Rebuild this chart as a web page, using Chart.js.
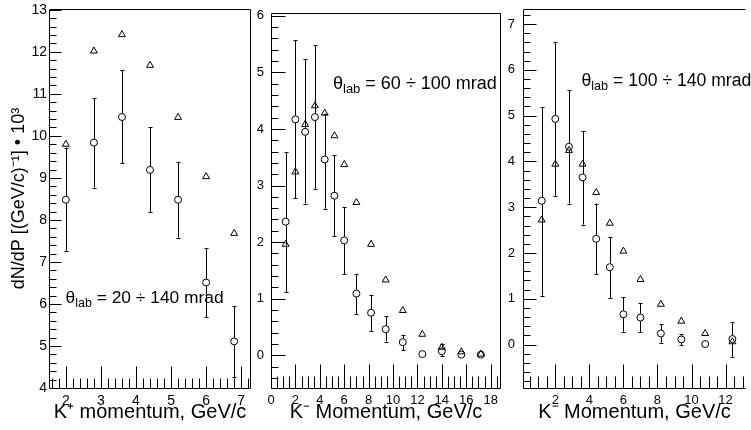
<!DOCTYPE html>
<html><head><meta charset="utf-8">
<script src="https://cdn.jsdelivr.net/npm/chart.js@4/dist/chart.umd.min.js"></script>
<style>
html,body{margin:0;padding:0;background:#fff;overflow:hidden;width:751px;height:430px;}
.p{position:absolute;top:0;height:430px;}
</style></head><body>
<div class="p" style="left:0;width:256px"><canvas id="c1"></canvas></div>
<div class="p" style="left:256px;width:250px"><canvas id="c2"></canvas></div>
<div class="p" style="left:506px;width:245px"><canvas id="c3"></canvas></div>
<script>
// ---------- data ----------
const p1Momentum   = [2.0, 2.8, 3.6, 4.4, 5.2, 6.0, 6.8];
const p1Circle     = [8.48, 9.84, 10.45, 9.19, 8.48, 6.51, 5.11];
const p1CircleLow  = [7.27, 8.77, 9.35, 8.18, 7.58, 5.68, 4.26];
const p1CircleHigh = [9.72, 10.89, 11.56, 10.20, 9.39, 7.33, 5.96];
const p1Triangle   = [9.80, 12.02, 12.41, 11.68, 10.44, 9.03, 7.68];
const p1XTicks = [2, 3, 4, 5, 6, 7];
const p1YTicks = [4, 5, 6, 7, 8, 9, 10, 11, 12, 13];

const p2Momentum   = [1.2, 2.0, 2.8, 3.6, 4.4, 5.2, 6.0, 7.0, 8.2, 9.4, 10.8, 12.4, 14.0, 15.6, 17.2];
const p2Circle     = [2.36, 4.17, 3.95, 4.21, 3.46, 2.82, 2.03, 1.09, 0.75, 0.46, 0.23, 0.02, 0.07, 0.01, 0.01];
const p2CircleLow  = [1.12, 2.78, 2.68, 2.94, 2.59, 2.10, 1.43, 0.73, 0.42, 0.24, 0.09, 0.00, -0.01, 0.00, 0.00];
const p2CircleHigh = [3.59, 5.57, 5.23, 5.48, 4.27, 3.54, 2.62, 1.44, 1.07, 0.69, 0.36, 0.05, 0.20, 0.03, 0.02];
const p2Triangle   = [1.96, 3.24, 4.08, 4.41, 4.28, 3.88, 3.37, 2.70, 1.96, 1.33, 0.79, 0.37, 0.14, 0.06, 0.02];
const p2XTicks = [0, 2, 4, 6, 8, 10, 12, 14, 16, 18];
const p2YTicks = [0, 1, 2, 3, 4, 5, 6];

const p3Momentum   = [1.2, 2.0, 2.8, 3.6, 4.4, 5.2, 6.0, 7.0, 8.2, 9.4, 10.8, 12.4];
const p3Circle     = [3.14, 4.93, 4.32, 3.65, 2.31, 1.69, 0.66, 0.59, 0.24, 0.11, 0.01, 0.12];
const p3CircleLow  = [1.07, 3.25, 3.08, 2.62, 1.54, 1.02, 0.28, 0.27, 0.04, -0.01, 0.00, -0.27];
const p3CircleHigh = [5.19, 6.61, 5.55, 4.67, 3.08, 2.35, 1.04, 0.90, 0.44, 0.22, 0.02, 0.49];
const p3Triangle   = [2.72, 3.94, 4.24, 3.94, 3.32, 2.65, 2.04, 1.42, 0.88, 0.51, 0.24, 0.06];
const p3XTicks = [2, 4, 6, 8, 10, 12];
const p3YTicks = [0, 1, 2, 3, 4, 5, 6, 7];

const FONT = '"Liberation Sans", Arial, Helvetica, sans-serif';

// ---------- ROOT-like frame, inner ticks, error bars, label ----------
const rootPlugin = {
  id: 'rootStyle',
  beforeDatasetsDraw(chart, args, o) {
    const ctx = chart.ctx, xs = chart.scales.x, ys = chart.scales.y;
    const r = 3.5;
    ctx.save();
    ctx.strokeStyle = '#000';
    ctx.lineWidth = 1;
    o.xs.forEach((xv, i) => {
      const px = Math.round(xs.getPixelForValue(xv)) + 0.5;
      const pc = ys.getPixelForValue(o.val[i]);
      const ph = ys.getPixelForValue(o.hi[i]);
      const pl = ys.getPixelForValue(o.lo[i]);
      ctx.beginPath();
      if (pc - ph > r) { ctx.moveTo(px, ph); ctx.lineTo(px, pc - r); }
      if (pl - pc > r) { ctx.moveTo(px, pc + r); ctx.lineTo(px, pl); }
      if (pc - ph > r) { ctx.moveTo(px - 2, Math.round(ph) + 0.5); ctx.lineTo(px + 2, Math.round(ph) + 0.5); }
      if (pl - pc > r) { ctx.moveTo(px - 2, Math.round(pl) + 0.5); ctx.lineTo(px + 2, Math.round(pl) + 0.5); }
      ctx.stroke();
    });
    ctx.restore();
  },
  afterDraw(chart, args, o) {
    const ctx = chart.ctx, a = chart.chartArea, xs = chart.scales.x, ys = chart.scales.y;
    ctx.save();
    ctx.strokeStyle = '#000';
    ctx.lineWidth = 1;
    const L = Math.round(a.left) + 0.5, R = Math.round(a.right) - 0.5;
    const T = Math.round(a.top) + 0.5, B = Math.round(a.bottom) + 0.5;
    ctx.beginPath();
    ctx.moveTo(R, T); ctx.lineTo(L, T); ctx.lineTo(L, B); ctx.lineTo(R, B);
    if (o.rightBorder) { ctx.moveTo(R, T); ctx.lineTo(R, B); }
    // x ticks (inside, from bottom)
    const x0 = Math.ceil(xs.min / o.xMinor - 1e-9);
    for (let k = x0; k * o.xMinor <= xs.max + 1e-9; k++) {
      const v = k * o.xMinor;
      const major = Math.abs(v / o.xMajor - Math.round(v / o.xMajor)) < 1e-6;
      const px = Math.round(xs.getPixelForValue(v)) + 0.5;
      ctx.moveTo(px, B); ctx.lineTo(px, B - (major ? o.xMajLen : o.xMinLen));
    }
    // y ticks (inside, from left)
    const y0 = Math.ceil(ys.min / o.yMinor - 1e-9);
    for (let k = y0; k * o.yMinor <= ys.max + 1e-9; k++) {
      const v = k * o.yMinor;
      const major = Math.abs(v - Math.round(v)) < 1e-6;
      const py = Math.round(ys.getPixelForValue(v)) + 0.5;
      ctx.moveTo(L, py); ctx.lineTo(L + (major ? o.yMajLen : o.yMinLen), py);
    }
    ctx.stroke();
    // theta label
    const tx = xs.getPixelForValue(o.label.x), ty = ys.getPixelForValue(o.label.y);
    ctx.fillStyle = '#000';
    ctx.textBaseline = 'alphabetic';
    ctx.textAlign = 'left';
    ctx.font = o.label.size + 'px ' + FONT;
    ctx.fillText('θ', tx, ty);
    let w = ctx.measureText('θ').width;
    ctx.font = (o.label.size * 0.72).toFixed(1) + 'px ' + FONT;
    ctx.fillText('lab', tx + w, ty + 4);
    w += ctx.measureText('lab').width;
    ctx.font = o.label.size + 'px ' + FONT;
    ctx.fillText(o.label.text, tx + w, ty);
    ctx.restore();
  }
};

function panel(id, c) {
  const circles = c.xs.map((x, i) => ({x: x, y: c.val[i]}));
  const tris = c.xs.map((x, i) => ({x: x, y: c.tri[i]}));
  new Chart(document.getElementById(id), {
    type: 'scatter',
    data: { datasets: [
      { data: circles, pointStyle: 'circle', pointRadius: 3.5, pointBorderWidth: 1,
        borderColor: '#000', backgroundColor: 'rgba(0,0,0,0)', showLine: false },
      { data: tris, pointStyle: 'triangle', pointRadius: 4, pointBorderWidth: 1,
        borderColor: '#000', backgroundColor: 'rgba(0,0,0,0)', showLine: false }
    ]},
    plugins: [rootPlugin],
    options: {
      animation: false, responsive: true, maintainAspectRatio: false,
      events: [],
      layout: { padding: { left: 0, right: c.padRight, top: c.padTop, bottom: 0 } },
      plugins: {
        legend: { display: false }, tooltip: { enabled: false },
        rootStyle: {
          xs: c.xs, val: c.val, lo: c.lo, hi: c.hi,
          xMinor: c.xMinor, xMajor: c.xMajor, yMinor: 0.2,
          xMajLen: c.xMajLen, xMinLen: c.xMinLen, yMajLen: c.yMajLen, yMinLen: 7,
          rightBorder: c.rightBorder, label: c.label
        }
      },
      scales: {
        x: {
          type: 'linear', min: c.xMin, max: c.xMax,
          afterBuildTicks: s => { s.ticks = c.xTicks.map(v => ({value: v})); },
          afterFit: s => { s.height = 42; s.paddingLeft = 0; s.paddingRight = 0; },
          grid: { display: false, drawTicks: false }, border: { display: false },
          ticks: { autoSkip: false, maxRotation: 0, padding: 5, color: '#000',
                   font: { family: FONT, size: c.tickSize } },
          title: { display: true, text: c.xTitle, color: '#000',
                   font: { family: FONT, size: 20 }, padding: { top: 0, bottom: 6 } }
        },
        y: {
          type: 'linear', min: c.yMin, max: c.yMax,
          afterBuildTicks: s => { s.ticks = c.yTicks.map(v => ({value: v})); },
          afterFit: s => { s.width = c.yWidth; s.paddingTop = 0; s.paddingBottom = 0; },
          grid: { display: false, drawTicks: false }, border: { display: false },
          ticks: { autoSkip: false, padding: c.yPad, color: '#000',
                   font: { family: FONT, size: c.tickSize } },
          title: { display: !!c.yTitle, text: c.yTitle || '', color: '#000',
                   font: { family: FONT, size: 18 }, padding: { top: 8, bottom: 0 } }
        }
      }
    }
  });
}

panel('c1', {
  xs: p1Momentum, val: p1Circle, lo: p1CircleLow, hi: p1CircleHigh, tri: p1Triangle,
  xTicks: p1XTicks, yTicks: p1YTicks, xMin: 1.52, xMax: 7.28, yMin: 4, yMax: 13.02,
  padRight: 2, padTop: 9, yWidth: 49, yPad: 2, tickSize: 14,
  xMinor: 0.2, xMajor: 1, xMajLen: 22, xMinLen: 10, yMajLen: 12,
  rightBorder: true,
  xTitle: 'K⁺ momentum, GeV/c', yTitle: 'dN/dP [(GeV/c)⁻¹] • 10³',
  label: { x: 1.99, y: 6.03, size: 17.4, text: ' = 20 ÷ 140 mrad' }
});
panel('c2', {
  xs: p2Momentum, val: p2Circle, lo: p2CircleLow, hi: p2CircleHigh, tri: p2Triangle,
  xTicks: p2XTicks, yTicks: p2YTicks, xMin: 0, xMax: 18.85, yMin: -0.58, yMax: 6.05,
  padRight: 2, padTop: 13, yWidth: 15, yPad: 7, tickSize: 13,
  xMinor: 0.5, xMajor: 2, xMajLen: 24, xMinLen: 12, yMajLen: 14,
  rightBorder: true,
  xTitle: 'K⁻ Momentum, GeV/c',
  label: { x: 5.08, y: 4.70, size: 18, text: ' = 60 ÷ 100 mrad' }
});
panel('c3', {
  xs: p3Momentum, val: p3Circle, lo: p3CircleLow, hi: p3CircleHigh, tri: p3Triangle,
  xTicks: p3XTicks, yTicks: p3YTicks, xMin: 0.1, xMax: 13.2, yMin: -0.95, yMax: 7.33,
  padRight: 0, padTop: 9, yWidth: 17, yPad: 8, tickSize: 13,
  xMinor: 0.5, xMajor: 2, xMajLen: 24, xMinLen: 12, yMajLen: 13,
  rightBorder: false,
  xTitle: 'K⁻ Momentum, GeV/c',
  label: { x: 3.53, y: 5.64, size: 17.6, text: ' = 100 ÷ 140 mrad' }
});
</script>
</body></html>
